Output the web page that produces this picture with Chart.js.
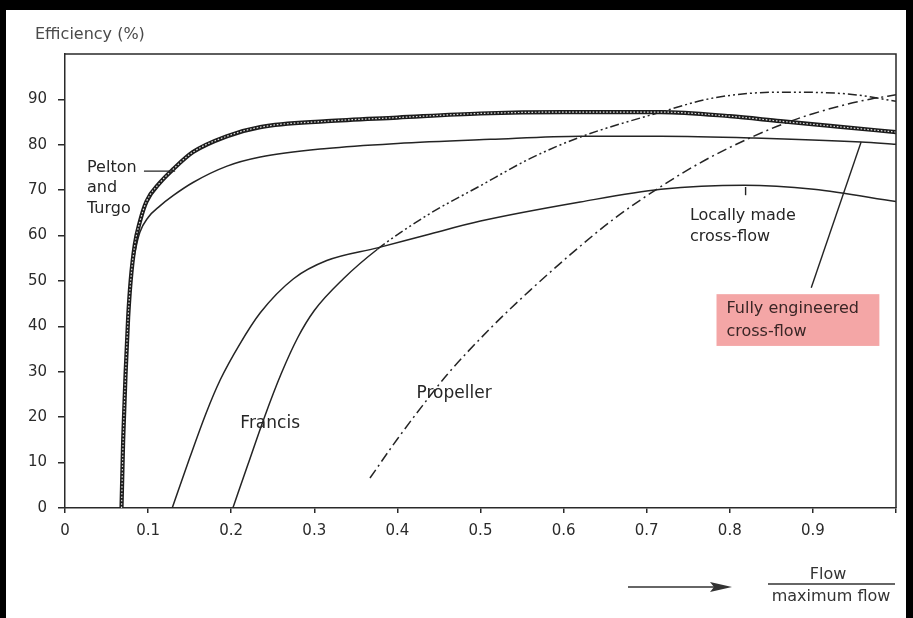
<!DOCTYPE html>
<html><head><meta charset="utf-8">
<script src="https://cdn.jsdelivr.net/npm/chart.js@4/dist/chart.umd.min.js"></script>
<style>html,body{margin:0;padding:0;background:#fff}#wrap{width:913px;height:618px;position:relative}</style>
</head><body><div id="wrap"><canvas id="c"></canvas></div>
<script>
// ---- data (x = flow / maximum flow, y = efficiency %) ----
const peltonX = [0.068,0.070,0.073,0.076,0.079,0.084,0.090,0.098,0.114,0.130,0.154,0.195,0.235,0.315,0.400,0.500,0.600,0.717,0.800,0.861,0.930,1.000];
const peltonY = [0,15,30,42,50,58,63,67.5,71.6,74.6,78.4,81.9,83.9,85.2,86.0,86.9,87.2,87.2,86.3,85.2,84.0,82.8];

const fullyX = [0.068,0.073,0.079,0.085,0.090,0.100,0.114,0.130,0.154,0.195,0.235,0.315,0.400,0.512,0.620,0.717,0.829,0.958,1.000];
const fullyY = [0,30,50,57,60.7,64,66.5,68.8,71.7,75.3,77.3,79.2,80.3,81.2,81.9,81.9,81.5,80.6,80.1];

const localX = [0.129,0.150,0.170,0.187,0.210,0.235,0.275,0.315,0.376,0.436,0.500,0.620,0.717,0.817,0.901,1.000];
const localY = [0,11,21,28.3,36,43,50.5,54.5,57.3,60.2,63.2,67.4,70.2,71.1,70.2,67.5];

const francisX = [0.202,0.220,0.240,0.260,0.280,0.300,0.335,0.376,0.436,0.500,0.560,0.620,0.717,0.780,0.861,0.942,1.000];
const francisY = [0,9.5,20,29.5,37.5,43.5,50.5,57,64.5,71,77,81.7,87.2,90.3,91.6,91.2,89.6];

const propX = [0.367,0.400,0.430,0.460,0.512,0.560,0.608,0.660,0.717,0.770,0.829,0.870,0.901,0.940,0.970,1.000];
const propY = [6.6,15.2,22.5,29.4,39.6,48,55.8,63.6,70.8,76.6,81.9,85,86.9,88.9,90.1,91];

const xTickLabels = ['0','0.1','0.2','0.3','0.4','0.5','0.6','0.7','0.8','0.9',''];
const yTickLabels = ['0','10','20','30','40','50','60','70','80','90',''];

const yTitle = 'Efficiency (%)';
const xTitleTop = 'Flow';
const xTitleBottom = 'maximum flow';

const labelPelton = ['Pelton','and','Turgo'];
const labelFrancis = 'Francis';
const labelPropeller = 'Propeller';
const labelLocal = ['Locally made','cross-flow'];
const labelFully = ['Fully engineered','cross-flow'];

function pts(xs, ys){ return xs.map((x,i)=>({x:x, y:ys[i]})); }

const LINE = '#242424';
const FONT = '"DejaVu Sans", sans-serif';

const annot = {
  id:'annot',
  beforeDraw(chart){
    const c=chart.ctx; c.save(); c.fillStyle='#fff'; c.fillRect(0,0,chart.width,chart.height); c.restore();
  },
  afterDraw(chart){
    const c = chart.ctx, a = chart.chartArea, sx = chart.scales.x, sy = chart.scales.y;
    const X = v => sx.getPixelForValue(v), Y = v => sy.getPixelForValue(v);
    c.save();
    c.strokeStyle = '#2a2a2a'; c.lineWidth = 1.5;
    c.beginPath(); c.moveTo(a.left, a.top); c.lineTo(a.right, a.top); c.lineTo(a.right, a.bottom); c.stroke();

    c.strokeStyle = LINE; c.lineWidth = 1.4;
    c.beginPath(); c.moveTo(X(0.095), Y(74.2)); c.lineTo(X(0.1325), Y(74.2)); c.stroke();
    c.beginPath(); c.moveTo(X(0.819), Y(70.7)); c.lineTo(X(0.819), Y(68.9)); c.stroke();
    c.beginPath(); c.moveTo(X(0.958), Y(80.6)); c.lineTo(X(0.898), Y(48.5)); c.stroke();

    c.fillStyle = '#f4a6a6';
    c.fillRect(X(0.784), Y(47.1), X(0.98)-X(0.784), Y(35.7)-Y(47.1));

    c.textBaseline = 'middle'; c.textAlign = 'left';
    c.fillStyle = '#262626';
    c.font = '16px ' + FONT;
    c.fillText(labelPelton[0], X(0.0265), Y(74.9));
    c.fillText(labelPelton[1], X(0.0265), Y(70.5));
    c.fillText(labelPelton[2], X(0.0265), Y(65.9));
    c.fillText(labelLocal[0], X(0.752), Y(64.3));
    c.fillText(labelLocal[1], X(0.752), Y(59.7));
    c.font = '17px ' + FONT;
    c.fillText(labelFrancis, X(0.211), Y(18.7));
    c.fillText(labelPropeller, X(0.423), Y(25.3));
    c.font = '16px ' + FONT;
    c.fillStyle = '#3a2626';
    c.fillText(labelFully[0], X(0.796), Y(43.8));
    c.fillText(labelFully[1], X(0.796), Y(38.8));

    c.fillStyle = '#4a4a4a'; c.font = '16px ' + FONT;
    c.fillText(yTitle, 35, 35);

    c.fillStyle = '#333'; c.textAlign = 'center';
    c.fillText(xTitleTop, 828, 575);
    c.fillText(xTitleBottom, 831, 597);
    c.strokeStyle = '#333'; c.lineWidth = 1.3;
    c.beginPath(); c.moveTo(768, 584); c.lineTo(895, 584); c.stroke();
    c.beginPath(); c.moveTo(628, 587); c.lineTo(716, 587); c.stroke();
    c.beginPath(); c.moveTo(732, 587); c.lineTo(710, 582); c.lineTo(714, 587); c.lineTo(710, 592); c.closePath(); c.fill();

    c.fillStyle = '#000';
    c.fillRect(0, 0, chart.width, 10);
    c.fillRect(0, 0, 6, chart.height);
    c.fillRect(chart.width - 7, 0, 7, chart.height);
    c.restore();
  }
};

new Chart(document.getElementById('c'), {
  type: 'line',
  data: {
    datasets: [
      { label: 'Pelton and Turgo', data: pts(peltonX, peltonY), borderColor: 'rgba(255,255,255,0.85)', borderWidth: 1.2, borderDash: [1.6, 1.8], order: 0 },
      { label: 'Pelton and Turgo (outline)', data: pts(peltonX, peltonY), borderColor: '#1c1c1c', borderWidth: 4.2, order: 1 },
      { label: 'Fully engineered cross-flow', data: pts(fullyX, fullyY), borderColor: LINE, borderWidth: 1.5, order: 2 },
      { label: 'Locally made cross-flow', data: pts(localX, localY), borderColor: LINE, borderWidth: 1.5, order: 3 },
      { label: 'Francis', data: pts(francisX, francisY), borderColor: LINE, borderWidth: 1.5, order: 4,
        segment: { borderDash: ctx => ctx.p0.parsed.x >= 0.37 ? [9, 3, 2, 3, 2, 3] : undefined } },
      { label: 'Propeller', data: pts(propX, propY), borderColor: LINE, borderWidth: 1.5, borderDash: [10, 4, 2, 4], order: 5 }
    ]
  },
  options: {
    responsive: true, maintainAspectRatio: false, animation: false,
    layout: { padding: { left: 0, top: 54, right: 17, bottom: 0 } },
    elements: { point: { radius: 0, hoverRadius: 0 }, line: { cubicInterpolationMode: 'monotone', fill: false } },
    plugins: { legend: { display: false }, tooltip: { enabled: false } },
    scales: {
      x: {
        type: 'linear', min: 0, max: 1,
        afterFit: s => { s.height = 110; },
        border: { display: true, color: '#2a2a2a', width: 1.5 },
        grid: { drawOnChartArea: false, drawTicks: true, tickLength: 5, color: '#2a2a2a', lineWidth: 1.5 },
        ticks: { stepSize: 0.1, padding: 9, color: '#2b2b2b', font: { family: 'DejaVu Sans', size: 15 }, maxRotation: 0, autoSkip: false,
          callback: (v, i) => xTickLabels[i] }
      },
      y: {
        type: 'linear', min: 0, max: 100,
        afterFit: s => { s.width = 65; },
        border: { display: true, color: '#2a2a2a', width: 1.5 },
        grid: { drawOnChartArea: false, drawTicks: true, tickLength: 7, lineWidth: 1.5,
          tickColor: ctx => (ctx.tick && ctx.tick.value === 100) ? 'rgba(0,0,0,0)' : '#2a2a2a' },
        ticks: { stepSize: 10, padding: 11, color: '#2b2b2b', font: { family: 'DejaVu Sans', size: 15 },
          callback: (v, i) => yTickLabels[i] }
      }
    }
  },
  plugins: [annot]
});
</script></body></html>
